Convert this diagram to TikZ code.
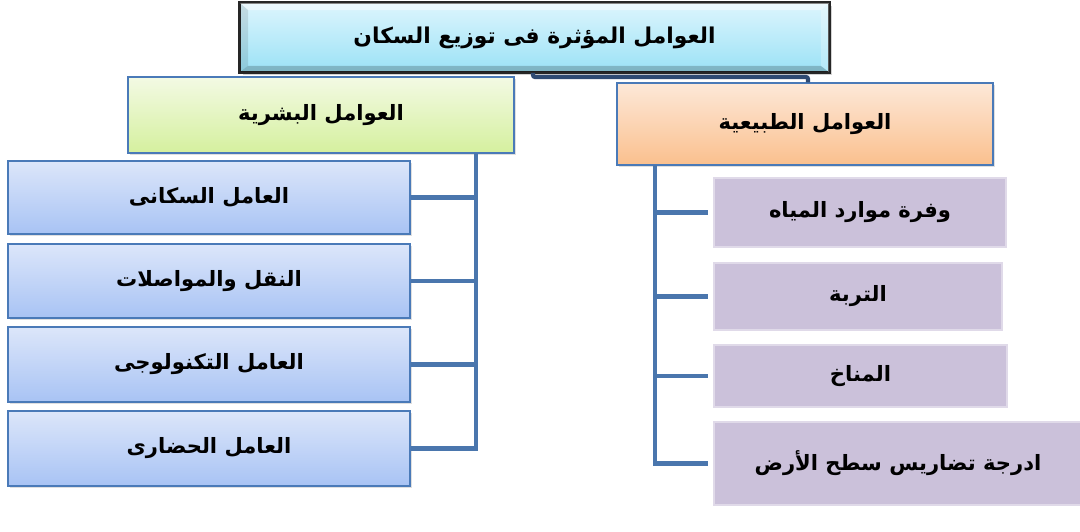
\documentclass[tikz,border=0pt]{standalone}
\usepackage{fontspec}
\newfontfamily\arabicfont[Script=Arabic]{DejaVu Sans}
\TeXXeTstate=1
\usetikzlibrary{shadows,calc}

\definecolor{edgeBlue}{HTML}{4A7AB8}
\definecolor{linkBlue}{HTML}{4A76AD}
\definecolor{linkNavy}{HTML}{2E4A72}
\definecolor{titleTop}{HTML}{DDF5FD}
\definecolor{titleBot}{HTML}{9BE2F6}
\definecolor{humTop}{HTML}{F3FAE4}
\definecolor{humBot}{HTML}{D5F09E}
\definecolor{natTop}{HTML}{FDE8D8}
\definecolor{natBot}{HTML}{FAC08E}
\definecolor{facTop}{HTML}{DCE6FA}
\definecolor{facBot}{HTML}{A8C3F4}
\definecolor{lilac}{HTML}{CBC1DA}

\begin{document}
\begin{tikzpicture}[x=0.025cm,y=-0.025cm]
        \tikzstyle{every node}=[font=\arabicfont\bfseries\fontsize{15}{18}\selectfont, inner sep=0pt]
        \tikzstyle{frame}=[draw=edgeBlue, line width=1pt, drop shadow={opacity=0.25, shadow xshift=1.5pt, shadow yshift=-1.5pt}]
        \tikzstyle{titleBox}=[draw=black!85, line width=1.3pt, top color=titleTop, bottom color=titleBot, drop shadow={opacity=0.35, shadow xshift=2pt, shadow yshift=-2pt}, font=\arabicfont\bfseries\fontsize{15.5}{19}\selectfont]
        \tikzstyle{humBox}=[frame, top color=humTop, bottom color=humBot]
        \tikzstyle{natBox}=[frame, top color=natTop, bottom color=natBot]
        \tikzstyle{factor}=[frame, top color=facTop, bottom color=facBot, minimum width=10.05cm]
        \tikzstyle{element}=[fill=lilac, draw=lilac!60!white, line width=0.8pt]
        \tikzstyle{branch}=[linkBlue, line width=3.5pt]
        \tikzstyle{topLink}=[linkNavy, line width=3pt, rounded corners=1.5pt]

        \useasboundingbox (0,0) rectangle (1080,532);

        \node[titleBox, minimum width=14.725cm, minimum height=1.725cm] (Title) at (534.5,37.5) {\beginR العوامل المؤثرة فى توزيع السكان\endR};
        \coordinate (tiNW) at ($(Title.north west)+(9,8)$);
        \coordinate (tiSE) at ($(Title.south east)+(-9,-7)$);
        \fill[white, opacity=0.45] (Title.north west) -- (Title.north east) -- (tiSE |- tiNW) -- (tiNW) -- cycle;
        \fill[black, opacity=0.2] (Title.south west) -- (Title.south east) -- (tiSE) -- (tiNW |- tiSE) -- cycle;
        \fill[black, opacity=0.1] (Title.north west) -- (tiNW) -- (tiNW |- tiSE) -- (Title.south west) -- cycle;
        \fill[white, opacity=0.25] (Title.north east) -- (tiSE |- tiNW) -- (tiSE) -- (Title.south east) -- cycle;
        \draw[black!85, line width=1.3pt] (Title.north west) rectangle (Title.south east);

        \node[humBox, minimum width=9.65cm, minimum height=1.9cm] (Human) at (321,115) {\beginR العوامل البشرية\endR};
        \node[natBox, minimum width=9.4cm, minimum height=2.05cm] (Natural) at (805,124) {\beginR العوامل الطبيعية\endR};

        \coordinate (barL) at (533,77);
        \coordinate (barR) at (808,77);
        \draw[topLink] (Title.south -| barL) |- (barR) -- (barR |- Natural.north);

        \node[factor, minimum height=1.825cm] (humA) at (209,197.5) {\beginR العامل السكانى\endR};
        \node[factor, minimum height=1.85cm] (humB) at (209,281) {\beginR النقل والمواصلات\endR};
        \node[factor, minimum height=1.875cm] (humC) at (209,364.5) {\beginR العامل التكنولوجى\endR};
        \node[factor, minimum height=1.875cm] (humD) at (209,448.5) {\beginR العامل الحضارى\endR};

        \node[element, minimum width=7.3cm, minimum height=1.725cm] (natA) at (860,212.5) {\beginR وفرة موارد المياه\endR};
        \node[element, minimum width=7.2cm, minimum height=1.675cm] (natB) at (858,296.5) {\beginR التربة\endR};
        \node[element, minimum width=7.325cm, minimum height=1.55cm] (natC) at (860.5,376) {\beginR المناخ\endR};
        \node[element, minimum width=9.2cm, minimum height=2.075cm] (natD) at (898,463.5) {\beginR ادرجة تضاريس سطح الأرض\endR};

        \coordinate (humTrunk) at (476,153);
        \draw[branch] (humTrunk) |- (humD.east);
        \foreach \n in {humA,humB,humC}
            \draw[branch] (\n.east) -- (\n.east -| humTrunk);

        \coordinate (natTrunk) at (655,165);
        \draw[branch, shorten >=3.5pt] (natTrunk) |- (natD.west);
        \foreach \n in {natA,natB,natC}
            \draw[branch, shorten >=3.5pt] (natTrunk |- \n.west) -- (\n.west);
    \end{tikzpicture}
\end{document}
